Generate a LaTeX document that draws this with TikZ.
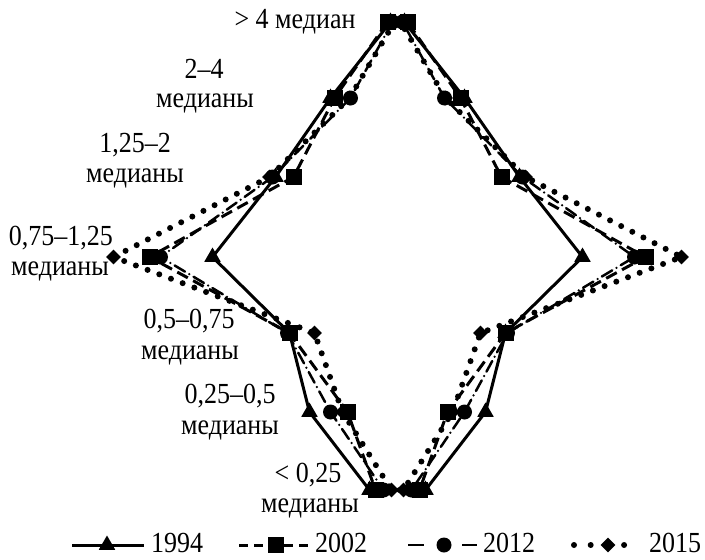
\documentclass[tikz,border=0pt]{standalone}
\usepackage{fontspec}
\setmainfont{Liberation Serif}
\usetikzlibrary{shapes.geometric}
\newcommand{\tall}[1]{\scalebox{1}[1.12]{#1}}
\begin{document}
\begin{tikzpicture}[x=1pt,y=-1pt,
  lab/.style={font=\fontsize{26}{28}\selectfont, inner sep=0pt},
  s94/.style={line width=3pt, line join=miter},
  s02/.style={line width=3pt, dash pattern=on 12pt off 6pt},
  s12/.style={line width=2.5pt, dash pattern=on 12pt off 5pt on 0pt off 5pt, line cap=round},
  s15/.style={line width=6pt, dash pattern=on 0pt off 12.5pt, line cap=round},
  m94/.style={regular polygon, regular polygon sides=3, fill, draw=none, inner sep=0pt, minimum size=19pt},
  m02/.style={rectangle, fill, draw=none, inner sep=0pt, minimum size=16pt},
  m12/.style={circle, fill, draw=none, inner sep=0pt, minimum size=15pt},
  m15/.style={diamond, fill, draw=none, inner sep=0pt, minimum size=15pt}]
\useasboundingbox (0,0) rectangle (705,560);
\def\cx{397.5}
% level / y / offsets for 1994, 2002, 2012, 2015
\foreach \n/\y/\a/\b/\c/\d in {1/22/7/10/5/3, 2/98/67/63/47/48, 3/177/122/104/125/128,
    4/257/185/248/237/284, 5/333/108/108/110/83, 6/412/88/50/67/55, 7/490/28/22/14/6} {
  \coordinate (L94-\n) at (\cx-\a,\y); \coordinate (R94-\n) at (\cx+\a,\y);
  \coordinate (L02-\n) at (\cx-\b,\y); \coordinate (R02-\n) at (\cx+\b,\y);
  \coordinate (L12-\n) at (\cx-\c,\y); \coordinate (R12-\n) at (\cx+\c,\y);
  \coordinate (L15-\n) at (\cx-\d,\y); \coordinate (R15-\n) at (\cx+\d,\y);
}
\foreach \s in {15,12,02,94} {
  \draw[s\s] (L\s-1) -- (L\s-2) -- (L\s-3) -- (L\s-4) -- (L\s-5) -- (L\s-6) -- (L\s-7)
    -- (R\s-7) -- (R\s-6) -- (R\s-5) -- (R\s-4) -- (R\s-3) -- (R\s-2) -- (R\s-1) -- cycle;
}
\foreach \s in {15,12,02,94} {
  \foreach \n in {1,...,7} {
    \node[m\s] (mL\s-\n) at (L\s-\n) {};
    \node[m\s] (mR\s-\n) at (R\s-\n) {};
  }
}
% category labels
\node[lab] (t1) at (295,22) {\tall{> 4 медиан}};
\node[lab] (t2a) at (204,69) {\tall{2–4}};
\node[lab] (t2b) at (205,103) {\tall{медианы}};
\node[lab] (t3a) at (135,145) {\tall{1,25–2}};
\node[lab] (t3b) at (135,178) {\tall{медианы}};
\node[lab] (t4a) at (61,238) {\tall{0,75–1,25}};
\node[lab] (t4b) at (60,271) {\tall{медианы}};
\node[lab] (t5a) at (189,321) {\tall{0,5–0,75}};
\node[lab] (t5b) at (190,355) {\tall{медианы}};
\node[lab] (t6a) at (230,396) {\tall{0,25–0,5}};
\node[lab] (t6b) at (230,430) {\tall{медианы}};
\node[lab] (t7a) at (308,475) {\tall{< 0,25}};
\node[lab] (t7b) at (310,508) {\tall{медианы}};
% legend
\def\ly{545}
\def\ty{543}
\coordinate (a1) at (72,\ly); \coordinate (a2) at (144,\ly);
\draw[s94] (a1) -- (a2);
\node[m94] (ka) at (107,\ly) {};
\node[lab, anchor=west] (ya) at (151,\ty) {\tall{1994}};
\coordinate (b1) at (239,\ly); \coordinate (b2) at (313,\ly);
\draw[line width=3pt, dash pattern=on 9pt off 6pt] (b1) -- (b2);
\node[m02] (kb) at (276,\ly) {};
\node[lab, anchor=west] (yb) at (315,\ty) {\tall{2002}};
\coordinate (c1) at (408,\ly); \coordinate (c2) at (424,\ly);
\coordinate (c3) at (462,\ly); \coordinate (c4) at (477,\ly);
\draw[line width=2.5pt] (c1) -- (c2);
\draw[line width=2.5pt] (c3) -- (c4);
\coordinate (c5) at (444,\ly);
\draw[line width=2.5pt] ([xshift=-5pt]c5) -- ([xshift=5pt]c5);
\node[m12] (kc) at (c5) {};
\node[lab, anchor=west] (yc) at (483,\ty) {\tall{2012}};
\coordinate (d1) at (574,\ly); \coordinate (d2) at (625,\ly);
\draw[line width=6pt, dash pattern=on 0pt off 16.7pt, line cap=round] (d1) -- (d2);
\node[m15] (kd) at (608,\ly) {};
\node[lab, anchor=west] (yd) at (649,\ty) {\tall{2015}};
\end{tikzpicture}
\end{document}
